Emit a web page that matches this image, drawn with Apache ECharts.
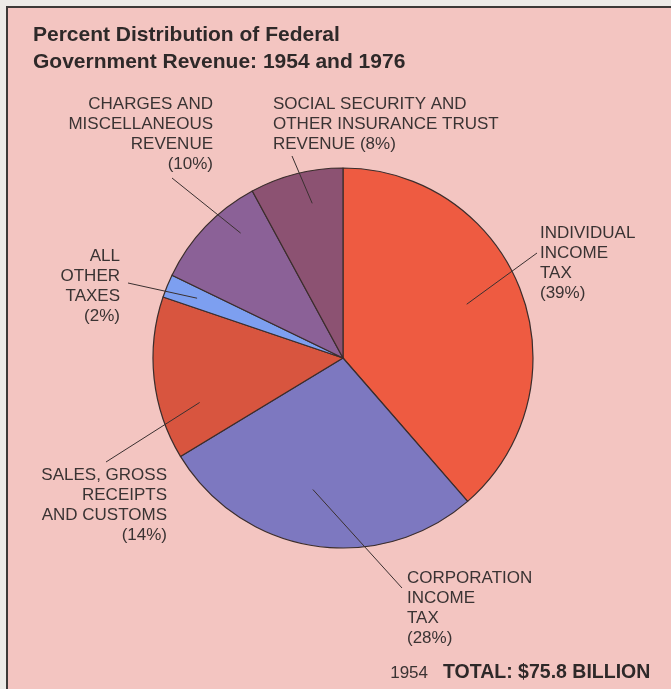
<!DOCTYPE html>
<html>
<head>
<meta charset="utf-8">
<script src="https://cdn.jsdelivr.net/npm/echarts@6/dist/echarts.min.js"></script>
<style>
  html, body { margin: 0; padding: 0; background: #ecebe7; }
  #chart { width: 671px; height: 689px; }
</style>
</head>
<body>
<div id="chart"></div>
<script>
// Revenue sources, clockwise from twelve o'clock
const categories = [
  'Individual income tax',
  'Corporation income tax',
  'Sales, gross receipts and customs',
  'All other taxes',
  'Charges and miscellaneous revenue',
  'Social security and other insurance trust revenue'
];
const shares = [39, 28, 14, 2, 10, 8];   // percent of total revenue
const labelTemplates = [
  'INDIVIDUAL\nINCOME\nTAX\n({p}%)',
  'CORPORATION\nINCOME\nTAX\n({p}%)',
  'SALES, GROSS\nRECEIPTS\nAND CUSTOMS\n({p}%)',
  'ALL\nOTHER\nTAXES\n({p}%)',
  'CHARGES AND\nMISCELLANEOUS\nREVENUE\n({p}%)',
  'SOCIAL SECURITY AND\nOTHER INSURANCE TRUST\nREVENUE ({p}%)'
];
const yearLabel = '1954';
const totalLabel = 'TOTAL: $75.8 BILLION';
const titleText = 'Percent Distribution of Federal\nGovernment Revenue: 1954 and 1976';

// Drawing styles
const sliceColors = ['#ee5b41', '#7d78c0', '#d8553f', '#7d9ff0', '#8b6197', '#8c5272'];
const PINK = '#f3c5c1';
const INK = '#3a3333';
const LABEL_FONT = '17px "Liberation Sans", Arial, sans-serif';

// Label placement: text anchor, alignment, leader start, leader depth into slice
const labelPlacement = [
  { x: 540, y: 223, align: 'left',  from: [537, 253], depth: 0.71, turn: -3 },
  { x: 407, y: 568, align: 'left',  from: [402, 588], depth: 0.71, turn: 4 },
  { x: 167, y: 465, align: 'right', from: [106, 462], depth: 0.79, turn: -11 },
  { x: 120, y: 246, align: 'right', from: [128, 283], depth: 0.83, turn: 0 },
  { x: 213, y: 94,  align: 'right', from: [172, 178], depth: 0.85, turn: 7 },
  { x: 273, y: 94,  align: 'left',  from: [292, 156], depth: 0.83, turn: 3 }
];

const chart = echarts.init(document.getElementById('chart'), null, { renderer: 'canvas' });

const frame = [
  { type: 'rect', shape: { x: 7, y: 7, width: 680, height: 700 }, style: { fill: PINK }, z: -10, silent: true },
  { type: 'line', shape: { x1: 6, y1: 7, x2: 671, y2: 7 }, style: { stroke: '#3c3a38', lineWidth: 2 }, z: -5 },
  { type: 'line', shape: { x1: 7, y1: 6, x2: 7, y2: 689 }, style: { stroke: '#3c3a38', lineWidth: 2 }, z: -5 }
];

const option = {
  backgroundColor: '#ecebe7',
  animation: false,
  title: {
    text: titleText,
    left: 28,
    top: 17,
    textStyle: {
      fontFamily: '"Liberation Sans", Arial, sans-serif',
      fontWeight: 'bold',
      fontSize: 21,
      lineHeight: 27,
      color: '#2e2929'
    }
  },
  series: [{
    type: 'pie',
    center: [343, 358],
    radius: 190,
    startAngle: 90,
    clockwise: true,
    avoidLabelOverlap: false,
    label: { show: false },
    labelLine: { show: false },
    emphasis: { disabled: true },
    itemStyle: { borderColor: '#3b2d2c', borderWidth: 1.2 },
    data: categories.map((name, i) => ({
      name: name,
      value: shares[i],
      itemStyle: { color: sliceColors[i] }
    }))
  }],
  graphic: frame
};

chart.setOption(option);

// Labels and leader lines, anchored inside each slice using the pie's own layout
const pieData = chart.getModel().getSeriesByIndex(0).getData();
const annotations = [];
categories.forEach((name, i) => {
  const lay = pieData.getItemLayout(i);
  const place = labelPlacement[i];
  const mid = (lay.startAngle + lay.endAngle) / 2 + place.turn * Math.PI / 180;
  const tx = lay.cx + lay.r * place.depth * Math.cos(mid);
  const ty = lay.cy + lay.r * place.depth * Math.sin(mid);
  annotations.push({
    type: 'line',
    shape: { x1: place.from[0], y1: place.from[1], x2: tx, y2: ty },
    style: { stroke: '#3a3030', lineWidth: 1 },
    z: 20
  });
  annotations.push({
    type: 'text',
    x: place.x,
    y: place.y,
    style: {
      text: labelTemplates[i].replace('{p}', shares[i]),
      font: LABEL_FONT,
      fill: INK,
      align: place.align,
      verticalAlign: 'top',
      lineHeight: 20
    },
    z: 20
  });
});

annotations.push({
  type: 'text', x: 428, y: 673,
  style: { text: yearLabel, font: '17px "Liberation Sans", Arial, sans-serif', fill: INK, align: 'right', verticalAlign: 'middle' },
  z: 20
});
annotations.push({
  type: 'text', x: 443, y: 673,
  style: { text: totalLabel, font: 'bold 19.5px "Liberation Sans", Arial, sans-serif', fill: '#2e2929', align: 'left', verticalAlign: 'middle' },
  z: 20
});

chart.setOption({ graphic: frame.concat(annotations) });
</script>
</body>
</html>
